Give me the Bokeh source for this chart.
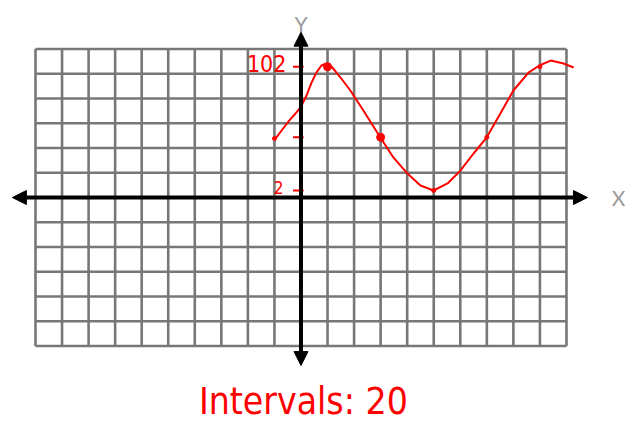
from bokeh.plotting import figure
from bokeh.models import Range1d, Arrow, NormalHead
from bokeh.embed import file_html
from bokeh.resources import INLINE
from bokeh.core.properties import value

# Graph paper: 20 columns by 12 rows; each row is one interval of 20 on the value scale
grid_cols = list(range(-10, 11))
grid_rows = list(range(-6, 7))
interval = 20
value_at_axis = -3.66  # value scale reading where the x axis crosses

# Hand-traced curve (x in grid columns, v on the value scale)
curve_x = [-0.96, -0.73, -0.47, -0.24, -0.02, 0.21, 0.40, 0.58, 0.77, 0.96,
           1.15, 1.49, 1.86, 2.35, 2.99, 3.48, 4.01, 4.50, 4.99, 5.52,
           6.01, 6.50, 6.99, 7.51, 8.00, 8.57, 8.98, 9.40, 9.89, 10.27]
curve_v = [44.0, 50.5, 57.8, 63.4, 69.1, 78.8, 89.3, 97.3, 103.0, 104.6,
           102.2, 93.3, 82.8, 66.6, 44.8, 28.7, 15.7, 6.0, 2.0, 7.7,
           18.2, 31.9, 44.8, 64.2, 82.8, 97.3, 103.0, 107.0, 104.6, 101.4]

# Plotted points on the curve
dot_x = [1, 3]
dot_v = [102, 45]
mark_x = [-1, 5, 7, 9]
mark_v = [44, 2, 45, 102]

# Marks and labels written on the y axis
axis_tick_v = [102, 45, 2]
axis_labels = ["102", "2"]
axis_label_v = [102, 2]
caption = "Intervals: 20"

x_lo, x_hi = -11.318, 12.336
y_lo, y_hi = -9.495, 7.960

hand_font = value("DejaVu Sans Condensed, Liberation Sans Narrow, Noto Sans, sans-serif")

p = figure(width=628, height=432, output_backend="svg", toolbar_location=None,
           x_range=Range1d(x_lo, x_hi), y_range=Range1d(y_lo, y_hi),
           min_border=0, min_border_left=0, min_border_right=0,
           min_border_top=0, min_border_bottom=0)
p.extra_y_ranges = {"val": Range1d(value_at_axis + interval * y_lo,
                                   value_at_axis + interval * y_hi)}
p.axis.visible = False
p.xgrid.visible = False
p.ygrid.visible = False
p.outline_line_color = None
p.background_fill_color = "white"
p.border_fill_color = "white"

red = "#ff0000"
paper = "#777777"

# graph paper lines
p.segment(x0=grid_cols, y0=[grid_rows[0]] * len(grid_cols),
          x1=grid_cols, y1=[grid_rows[-1]] * len(grid_cols),
          line_color=paper, line_width=2.6)
p.segment(x0=[grid_cols[0]] * len(grid_rows), y0=grid_rows,
          x1=[grid_cols[-1]] * len(grid_rows), y1=grid_rows,
          line_color=paper, line_width=2.6)

# axes with arrowheads at both ends
def head():
    return NormalHead(size=14, fill_color="black", line_color="black", line_width=1)

p.add_layout(Arrow(x_start=-10.87, y_start=0, x_end=10.79, y_end=0,
                   start=head(), end=head(), line_color="black", line_width=4))
p.add_layout(Arrow(x_start=0, y_start=-6.79, x_end=0, y_end=6.68,
                   start=head(), end=head(), line_color="black", line_width=4))

p.text(x=[11.96], y=[0], text=["X"], text_color="#9a9a9a",
       text_font=value("Lato"), text_font_size="21px",
       text_align="center", text_baseline="middle")
p.text(x=[0], y=[7.05], text=["Y"], text_color="#9a9a9a",
       text_font=value("Lato"), text_font_size="21px",
       text_align="center", text_baseline="middle")

# red ticks on the y axis
p.segment(x0=[-0.3] * len(axis_tick_v), y0=axis_tick_v,
          x1=[0.1] * len(axis_tick_v), y1=axis_tick_v,
          y_range_name="val", line_color=red, line_width=2)

# the curve and its points
p.line(curve_x, curve_v, y_range_name="val", line_color=red, line_width=2,
       line_join="round")
p.scatter(dot_x, dot_v, y_range_name="val", size=8, color=red)
p.scatter(mark_x, mark_v, y_range_name="val", size=4, color=red)

# axis labels written in red
p.text(x=[-0.55, -0.66], y=axis_label_v, text=axis_labels, y_range_name="val",
       text_color=red, text_font=hand_font,
       text_font_size=["23px", "17px"], text_align="right",
       text_baseline="middle", y_offset=[-3, -3])

p.text(x=[0.09], y=[-8.26], text=[caption], text_color=red,
       text_font=hand_font, text_font_size="37px",
       text_align="center", text_baseline="middle")

open("out.html", "w").write(file_html(p, INLINE))
